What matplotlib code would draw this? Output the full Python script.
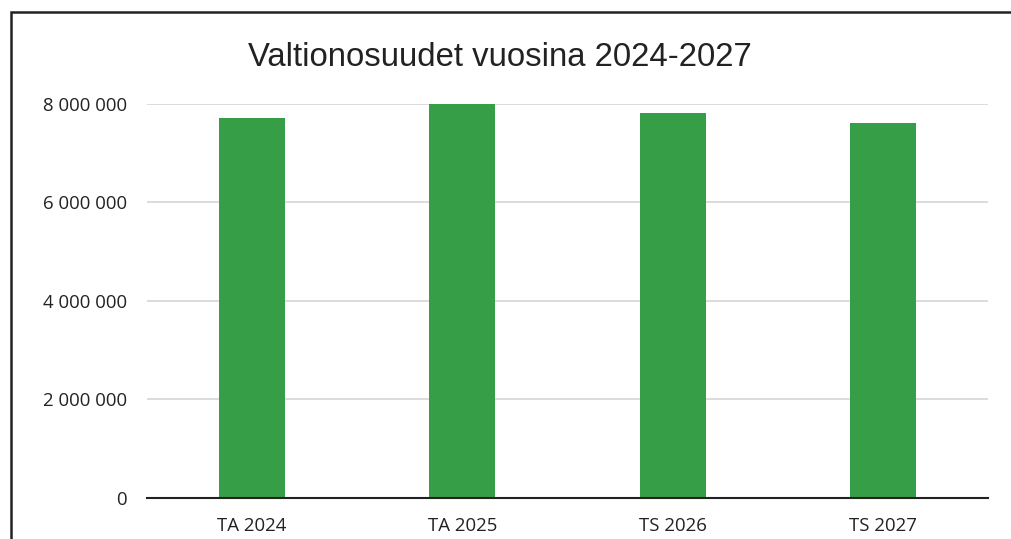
import matplotlib
matplotlib.use("Agg")
import matplotlib.pyplot as plt
from matplotlib.patches import Rectangle
from matplotlib.ticker import FuncFormatter

categories = ["TA 2024", "TA 2025", "TS 2026", "TS 2027"]
values = [7710000, 8000000, 7810000, 7610000]
yticks = [0, 2000000, 4000000, 6000000, 8000000]

fig = plt.figure(figsize=(10.11, 5.39), dpi=100)
ax = fig.add_axes([147/1011, 41.3/539, (988-147)/1011, (497.7-103.7)/539])

x = range(len(categories))
ax.bar(x, values, width=0.315, color="#359E47", zorder=3)
ax.set_xlim(-0.5, len(categories) - 0.5)
ax.set_ylim(0, 8000000)
ax.set_yticks(yticks)
ax.yaxis.set_major_formatter(FuncFormatter(lambda v, p: f"{int(v):,}".replace(",", " ")))
ax.set_xticks(list(x))
ax.set_xticklabels(categories)
ax.grid(axis="y", color="#dcdcdc", linewidth=1.4, zorder=0)
for s in ["top", "right", "left"]:
    ax.spines[s].set_visible(False)
ax.spines["bottom"].set_color("#222222")
ax.spines["bottom"].set_linewidth(1.5)
ax.spines["bottom"].set_zorder(4)
ax.tick_params(axis="both", length=0, labelsize=13.4, colors="#222222")
ax.tick_params(axis="y", pad=14.4)
ax.tick_params(axis="x", pad=14)
for lab in ax.get_xticklabels() + ax.get_yticklabels():
    lab.set_fontfamily("Open Sans")

fig.text(500/1011, 1 - 57/539, "Valtionosuudet vuosina 2024-2027", ha="center", va="center",
         fontsize=23.7, family="Liberation Sans", color="#222222")

fig.patches.append(Rectangle((10.5/1011, -0.1), 1.2, 1 - 12.5/539 + 0.1, transform=fig.transFigure,
                             fill=False, edgecolor="#222222", linewidth=1.8))

fig.savefig("out.png", dpi=100)
